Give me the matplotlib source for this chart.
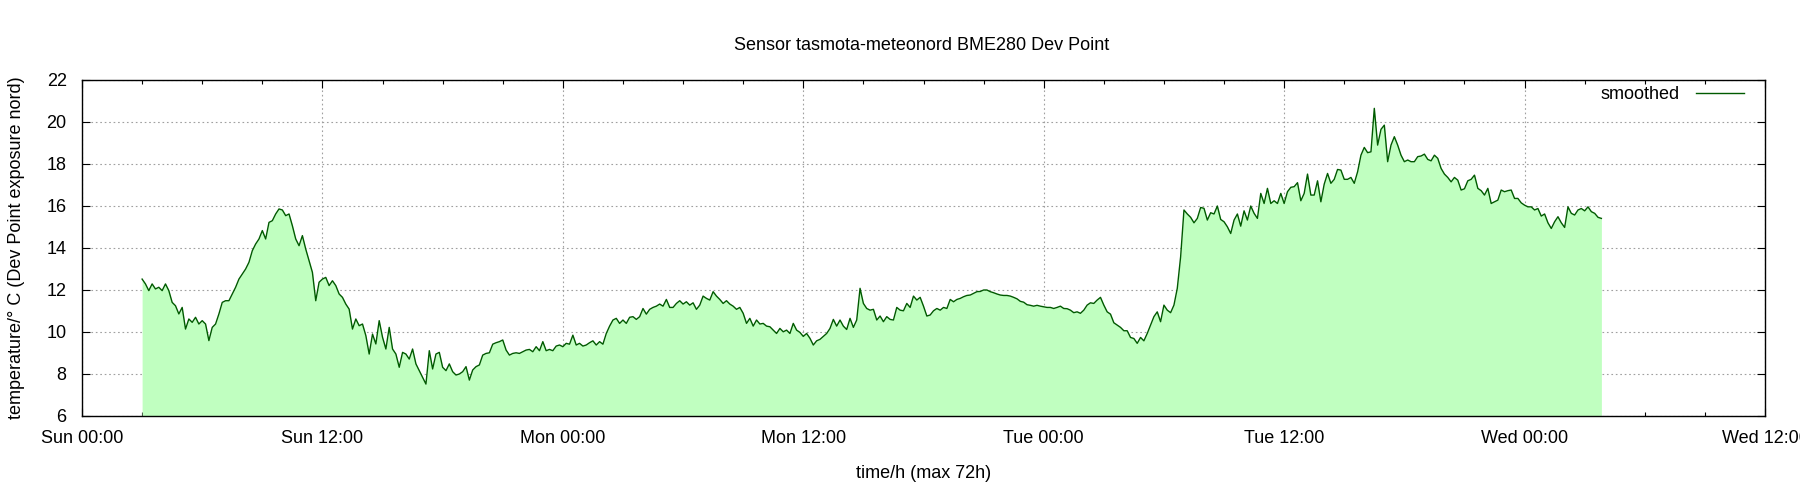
import numpy as np
import matplotlib
matplotlib.use("Agg")
import matplotlib.pyplot as plt
from matplotlib.ticker import MultipleLocator

# dew point readings, one value every 10 minutes, hours counted from Sun 00:00
step_h = 1.0 / 6.0

start_a = 3.0
dew_a = [12.52, 12.29, 11.97, 12.29, 12.05, 12.13, 11.97, 12.29, 11.97, 11.41,
         11.25, 10.86, 11.17, 10.14, 10.62, 10.46, 10.70, 10.38, 10.54, 10.38,
         9.59, 10.22, 10.38, 10.86, 11.41, 11.49, 11.49, 11.81, 12.13, 12.52,
         12.76, 13.00, 13.32, 13.87, 14.19, 14.43, 14.83, 14.43, 15.22, 15.30,
         15.62, 15.86, 15.81, 15.54, 15.62, 15.06, 14.43, 14.11, 14.59, 13.95,
         13.40, 12.84, 11.49, 12.37, 12.52, 12.60, 12.21, 12.44, 12.21, 11.81,
         11.65, 11.33, 11.09, 10.14, 10.62, 10.30, 10.38, 9.83, 8.95, 9.90,
         9.43, 10.54, 9.75, 9.19, 10.22, 9.19, 8.95, 8.32, 9.03, 8.95,
         8.71, 9.19, 8.48, 8.16, 7.84, 7.52, 9.11, 8.24, 8.95, 9.03,
         8.32, 8.16, 8.48]

start_b = 18.5
dew_b = [8.11, 7.95, 8.00, 8.11, 8.35, 7.71, 8.19, 8.35, 8.43, 8.90,
         8.98, 9.01, 9.42, 9.49, 9.54, 9.62, 9.14, 8.90, 8.98, 9.01,
         8.98, 9.06, 9.14, 9.17, 9.06, 9.30, 9.11, 9.54, 9.11, 9.17,
         9.11, 9.33, 9.38, 9.30, 9.46, 9.42, 9.85, 9.38, 9.46, 9.33,
         9.38, 9.49, 9.58, 9.38, 9.54, 9.42, 9.93, 10.28, 10.57, 10.65,
         10.41, 10.57, 10.41, 10.70, 10.73, 10.60, 10.73, 11.12, 10.85, 11.08,
         11.17, 11.23, 11.33, 11.23, 11.55, 11.17, 11.17, 11.36, 11.49, 11.33,
         11.44, 11.28, 11.39, 11.08, 11.28, 11.71, 11.60, 11.52, 11.92, 11.71,
         11.55, 11.36, 11.49, 11.33, 11.23, 11.08, 11.17, 10.89, 10.41, 10.65,
         10.28, 10.57, 10.38]

start_c = 34.0
dew_c = [10.41, 10.28, 10.25, 10.09, 9.93, 10.17, 10.01, 10.09, 9.93, 10.41,
         10.09, 9.98, 9.79, 9.93, 9.70, 9.38, 9.58, 9.65, 9.79, 9.93,
         10.17, 10.60, 10.28, 10.57, 10.28, 10.12, 10.65, 10.22, 10.57, 12.08,
         11.36, 11.12, 11.04, 11.08, 10.57, 10.76, 10.49, 10.73, 10.60, 10.57,
         11.17, 11.04, 11.01, 11.36, 11.17, 11.71, 11.52, 11.65, 11.23, 10.76,
         10.81, 11.01, 11.12, 11.04, 11.17, 11.12, 11.55, 11.44, 11.55, 11.60,
         11.68, 11.74, 11.76, 11.84, 11.92, 11.93, 12.00, 12.00, 11.92, 11.87,
         11.81, 11.76, 11.74, 11.74, 11.71, 11.65, 11.58, 11.46, 11.42, 11.30,
         11.27, 11.23, 11.27, 11.23, 11.20, 11.17, 11.17, 11.12, 11.17, 11.23,
         11.12, 11.11, 11.04]

start_d = 49.5
dew_d = [10.92, 10.96, 10.89, 11.04, 11.28, 11.39, 11.36, 11.52, 11.65, 11.28,
         10.96, 10.85, 10.44, 10.33, 10.22, 10.06, 10.06, 9.74, 9.69, 9.46,
         9.74, 9.58, 9.93, 10.33, 10.73, 10.96, 10.49, 11.28, 11.04, 10.92,
         11.28, 12.08, 13.58, 15.81, 15.62, 15.46, 15.20, 15.41, 15.93, 15.89,
         15.33, 15.68, 15.62, 16.00, 15.36, 15.25, 15.01, 14.69, 15.33, 15.62,
         15.04, 15.77, 15.33, 16.00, 15.65, 15.41, 16.60, 16.12, 16.84, 16.12,
         16.25, 16.12, 16.60, 16.12, 16.68, 16.89, 16.92, 17.11, 16.25, 16.60,
         17.52, 16.52, 16.52, 17.20, 16.20, 17.04, 17.55, 17.08, 17.27, 17.74,
         17.71, 17.27, 17.27, 17.36, 17.08, 17.63, 18.42, 18.79, 18.54, 18.58,
         20.65, 18.90]

start_e = 64.0 + 5.0 / 6.0
dew_e = [19.65, 19.85, 18.11, 18.90, 19.30, 18.90, 18.42, 18.11, 18.19, 18.11,
         18.11, 18.35, 18.38, 18.47, 18.22, 18.15, 18.42, 18.27, 17.79, 17.52,
         17.36, 17.15, 17.36, 17.23, 16.76, 16.82, 17.20, 17.27, 17.47, 16.84,
         16.73, 16.52, 16.84, 16.12, 16.20, 16.28, 16.76, 16.68, 16.73, 16.76,
         16.36, 16.36, 16.15, 16.04, 15.96, 15.96, 15.81, 15.88, 15.52, 15.62,
         15.20, 14.93, 15.25, 15.49, 15.20, 14.98, 15.96, 15.65, 15.57, 15.81,
         15.88, 15.77, 15.96, 15.73, 15.65, 15.46, 15.41]

tick_hours = [0, 12, 24, 36, 48, 60, 72, 84]
tick_labels = ["Sun 00:00", "Sun 12:00", "Mon 00:00", "Mon 12:00",
               "Tue 00:00", "Tue 12:00", "Wed 00:00", "Wed 12:00"]

segs = [(start_a, dew_a), (start_b, dew_b), (start_c, dew_c),
        (start_d, dew_d), (start_e, dew_e)]
t = np.concatenate([s + np.arange(len(v)) * step_h for s, v in segs])
dew = np.concatenate([np.array(v) for s, v in segs])

plt.rcParams['font.family'] = ['Liberation Sans', 'DejaVu Sans']
plt.rcParams['font.size'] = 13

fig = plt.figure(figsize=(18, 5), dpi=100)
ax = fig.add_axes([82 / 1800, 84 / 500, 1683 / 1800, 336 / 500])

ax.fill_between(t, dew, 6, color='#c0ffc0', lw=0, zorder=1)
ax.plot(t, dew, color='#005a00', lw=1.0, label='smoothed', zorder=2)

ax.set_xlim(0, 84)
ax.set_ylim(6, 22)
ax.set_xticks(tick_hours)
ax.set_xticklabels(tick_labels)
ax.xaxis.set_minor_locator(MultipleLocator(3))
ax.yaxis.set_major_locator(MultipleLocator(2))

ax.tick_params(which='both', direction='in', top=True, right=True, width=0.8)
ax.tick_params(which='major', length=6)
ax.tick_params(which='minor', length=3)
ax.tick_params(axis='x', pad=10)
ax.tick_params(axis='y', pad=11)

ax.set_axisbelow(True)
ax.grid(True, which='major', color='#a0a0a0', lw=0.8, linestyle=(0, (1.5, 2.5)))
for sp in ax.spines.values():
    sp.set_linewidth(1.0)

fig.text(922 / 1800, 1 - 45 / 500, "Sensor tasmota-meteonord BME280 Dev Point",
         ha='center', va='center')
ax.set_xlabel("time/h (max 72h)", va='center')
ax.xaxis.set_label_coords(0.5, (416 - 473) / 336)
ax.set_ylabel("temperature/° C (Dev Point exposure nord)", va='center')
ax.yaxis.set_label_coords((17 - 82) / 1683, 0.5)

ax.legend(loc='center right', bbox_to_anchor=((1744 - 82) / 1683, (416 - 95) / 336),
          frameon=False, markerfirst=False, borderpad=0, borderaxespad=0,
          handlelength=2.67, handletextpad=0.9)

fig.savefig("out.png", dpi=100)
